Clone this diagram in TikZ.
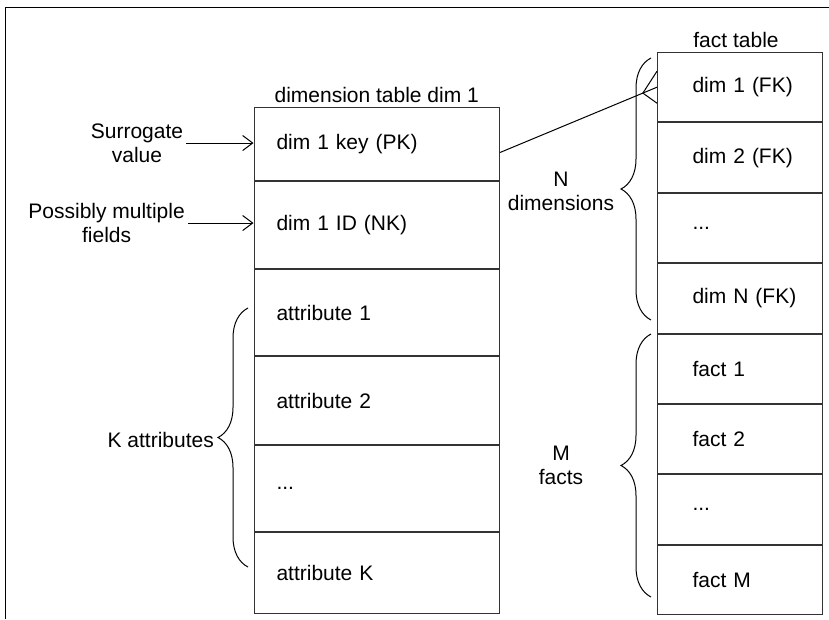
\documentclass[tikz,border=0pt]{standalone}
\usepackage{fontspec}
\setmainfont{Liberation Sans}
\usetikzlibrary{arrows.meta,calc,decorations.pathreplacing}

\tikzset{
  dimrow/.style={draw=black!80, line width=1pt, anchor=north west, minimum height=#1,
    text width=200.5pt, inner xsep=22.5pt, inner ysep=0pt, align=left},
  factrow/.style={draw=black!80, line width=1pt, anchor=north west, minimum height=#1,
    text width=130pt, inner xsep=17.5pt, inner ysep=0pt, align=left,
    execute at begin node={\hspace*{17.5pt}}},
  note/.style={align=center, inner sep=3pt},
  pointer/.style={-{Straight Barb[length=10pt,width=15pt]}, line width=1pt},
  link/.style={line width=1pt},
  bracket/.style={decorate, decoration={brace, amplitude=30pt}, line width=1pt},
}

\begin{document}
\begin{tikzpicture}[x=1pt, y=-1pt, font=\fontsize{21}{24}\selectfont]

    \useasboundingbox (0,0) rectangle (829,619);

    % Frame
    \draw[line width=1pt] (829,7) -- (5,7) -- (5,619);

    % Dimension table
    \node[dimrow=73] (keyrow) at (253.5,107) {dim 1 key (PK)};
    \node[dimrow=87] (idrow) at (keyrow.south west) {dim 1 ID (NK)};
    \node[dimrow=86] (attr1) at (idrow.south west) {attribute 1};
    \node[dimrow=88] (attr2) at (attr1.south west) {attribute 2};
    \node[dimrow=86] (attrdots) at (attr2.south west) {...};
    \node[dimrow=81] (attrK) at (attrdots.south west) {attribute K};
    \node[anchor=south, inner sep=4pt] (dimtitle) at (keyrow.north) {dimension table dim 1};

    % Fact table
    \node[factrow=69.4] (fk1) at (657,52) {dim 1 (FK)};
    \node[factrow=69.4] (fk2) at (fk1.south west) {dim 2 (FK)};
    \node[factrow=69.4] (fkdots) at (fk2.south west) {...};
    \node[factrow=69.4] (fkN) at (fkdots.south west) {dim N (FK)};
    \node[factrow=69.4] (fact1) at (fkN.south west) {fact 1};
    \node[factrow=69.4] (fact2) at (fact1.south west) {fact 2};
    \node[factrow=69.4] (factdots) at (fact2.south west) {...};
    \node[factrow=69.4] (factM) at (factdots.south west) {fact M};
    \node[anchor=south, inner sep=4pt, xshift=-4pt] (facttitle) at (fk1.north) {fact table};

    % Notes with arrows
    \node[note] (surrogate) at (137,143) {Surrogate\\value};
    \node[note, anchor=east] (multiple) at (188,223) {Possibly multiple\\fields};
    \draw[pointer] (surrogate.east) -- (surrogate.east -| keyrow.west);
    \draw[pointer] (multiple.east) -- (multiple.east -| idrow.west);

    % Key to fact table, crow's foot
    \coordinate (crow) at ($([yshift=-8.5pt]keyrow.east)!0.91!(fk1.west)$);
    \draw[link] ([yshift=-8.5pt]keyrow.east) -- (fk1.west);
    \draw[link] ([yshift=16pt]fk1.west) -- (crow) -- ([yshift=-16pt]fk1.west);

    % Braces
    \draw[bracket] (248,567) -- (248,308);
    \node[note, anchor=east] (kattr) at (217,440) {K attributes};
    \draw[bracket] (651,320) -- (651,58);
    \node[note] (ndims) at (561,191) {N\\dimensions};
    \draw[bracket] (651,597) -- (651,334);
    \node[note] (mfacts) at (561,465) {M\\facts};

\end{tikzpicture}
\end{document}
